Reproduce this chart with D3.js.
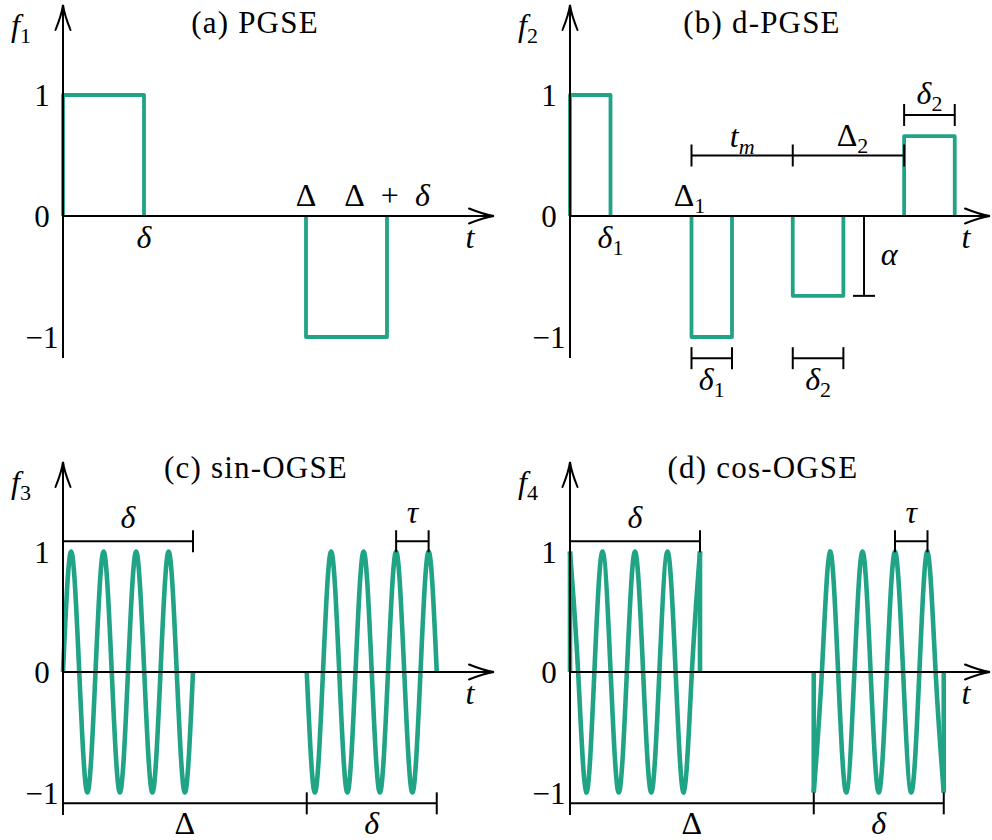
<!DOCTYPE html>
<html><head><meta charset="utf-8">
<script src="https://cdn.jsdelivr.net/npm/d3@7"></script>
<style>
body{margin:0;background:#fff}
svg{display:block;background:#fff}
text{font-family:"Liberation Serif","Times New Roman",serif;fill:#000;white-space:pre}
</style>
</head><body>
<svg id="c" width="992" height="840"></svg>
<script>
// ---------------- DATA ----------------
const yTickValues = [1, 0, -1];
const yTickLabels = ["1", "0", "\u22121"];
const panelTitles = ["(a) PGSE", "(b) d-PGSE", "(c) sin-OGSE", "(d) cos-OGSE"];
const yAxisSubs = ["1", "2", "3", "4"];

// (a) PGSE pulses
const pgseStart = [0, 3];
const pgseEnd = [1, 4];
const pgseAmp = [1, -1];

// (b) d-PGSE pulses
const dpgseStart = [0, 3, 5.5, 8.25];
const dpgseEnd = [1, 4, 6.75, 9.5];
const dpgseAmp = [1, -1, -0.66, 0.66];

// (c) sin-OGSE knots (zeros and extrema)
const sinBlock1T = [0,0.25,0.5,0.75,1,1.25,1.5,1.75,2,2.25,2.5,2.75,3,3.25,3.5,3.75,4];
const sinBlock1V = [0,1,0,-1,0,1,0,-1,0,1,0,-1,0,1,0,-1,0];
const sinBlock2T = [7.5,7.75,8,8.25,8.5,8.75,9,9.25,9.5,9.75,10,10.25,10.5,10.75,11,11.25,11.5];
const sinBlock2V = [0,-1,0,1,0,-1,0,1,0,-1,0,1,0,-1,0,1,0];

// (d) cos-OGSE knots
const cosBlock1T = [0,0.25,0.5,0.75,1,1.25,1.5,1.75,2,2.25,2.5,2.75,3,3.25,3.5,3.75,4];
const cosBlock1V = [1,0,-1,0,1,0,-1,0,1,0,-1,0,1,0,-1,0,1];
const cosBlock2T = [7.5,7.75,8,8.25,8.5,8.75,9,9.25,9.5,9.75,10,10.25,10.5,10.75,11,11.25,11.5];
const cosBlock2V = [-1,0,1,0,-1,0,1,0,-1,0,1,0,-1,0,1,0,-1];
const cosEdgeT = [0, 4, 7.5, 11.5];
const cosEdgeFrom = [0, 1, 0, -1];
const cosEdgeTo = [1, 0, -1, 0];

// ---------------- LAYOUT ----------------
const GREEN = "#21a386";
const svg = d3.select("#c");
const L = [
  {x0:63,  y0:216, ux:81,   uy:121,   tipX:494, tipY:5,   botY:358, titleX:255, titleY:33},
  {x0:570, y0:216, ux:40.5, uy:121,   tipX:990, tipY:5,   botY:358, titleX:762, titleY:33},
  {x0:63,  y0:672, ux:32.5, uy:120.5, tipX:494, tipY:462, botY:815, titleX:256, titleY:478},
  {x0:570, y0:672, ux:32.5, uy:120.5, tipX:990, tipY:462, botY:815, titleX:763, titleY:478}
];

function arrowHead(g, x, y, angle) {
  g.append("path")
    .attr("d", "M-25,-7.5 C-15,-3.5 -6,-0.8 0,0 C-6,0.8 -15,3.5 -25,7.5")
    .attr("transform", `translate(${x},${y}) rotate(${angle})`)
    .attr("fill", "none").attr("stroke", "#000").attr("stroke-width", 2)
    .attr("stroke-linecap", "round");
}

function mathLabel(g, x, y, parts, size, anchor) {
  size = size || 32;
  const t = g.append("text").attr("x", x).attr("y", y)
    .attr("text-anchor", anchor || "middle").style("font-size", size + "px");
  let shifted = 0;
  parts.forEach(p => {
    const ts = t.append("tspan").text(p.s);
    if (p.i) ts.style("font-style", "italic");
    if (p.sub) { ts.style("font-size", Math.round(size * 0.7) + "px").attr("dy", 7 - shifted); shifted = 7; }
    else if (shifted) { ts.attr("dy", -shifted); shifted = 0; }
  });
  return t;
}

function bar(g, xPx, yPx) {
  g.append("line").attr("x1", xPx[0]).attr("x2", xPx[xPx.length - 1])
    .attr("y1", yPx).attr("y2", yPx).attr("stroke", "#000").attr("stroke-width", 2);
  xPx.forEach(x => g.append("line").attr("x1", x).attr("x2", x)
    .attr("y1", yPx - 11).attr("y2", yPx + 11).attr("stroke", "#000").attr("stroke-width", 2));
}

function setupPanel(i) {
  const P = L[i];
  const xs = d3.scaleLinear().domain([0, 1]).range([P.x0, P.x0 + P.ux]);
  const ys = d3.scaleLinear().domain([-1, 1]).range([P.y0 + P.uy, P.y0 - P.uy]);
  const g = svg.append("g");
  const curves = g.append("g");
  const axes = g.append("g");
  const ann = g.append("g");
  axes.append("line").attr("x1", P.x0).attr("x2", P.tipX).attr("y1", ys(0)).attr("y2", ys(0))
    .attr("stroke", "#000").attr("stroke-width", 2);
  arrowHead(axes, P.tipX, ys(0), 0);
  axes.append("line").attr("x1", P.x0).attr("x2", P.x0).attr("y1", P.botY).attr("y2", P.tipY)
    .attr("stroke", "#000").attr("stroke-width", 2);
  arrowHead(axes, P.x0, P.tipY, -90);
  const ag = axes.append("g").attr("transform", `translate(${P.x0},0)`)
    .call(d3.axisLeft(ys).tickValues(yTickValues)
      .tickFormat(d => yTickLabels[yTickValues.indexOf(d)]).tickSize(0));
  ag.select(".domain").remove();
  ag.attr("font-family", null).attr("font-size", null);
  ag.selectAll("text").attr("x", -21).attr("text-anchor", "middle").attr("dy", "0.34em")
    .style("font-size", "31px").style("fill", "#000");
  mathLabel(axes, P.tipX - 24, ys(0) + 32, [{s: "t", i: true}]);
  mathLabel(axes, P.x0 - 52, P.tipY + 31, [{s: "f", i: true}, {s: yAxisSubs[i], sub: true}], 32, "start");
  axes.append("text").attr("x", P.titleX).attr("y", P.titleY).attr("text-anchor", "middle")
    .style("font-size", "31px").style("letter-spacing", "1.2px").text(panelTitles[i]);
  return {xs, ys, curves, ann};
}

function pulses(p, starts, ends, amps) {
  const line = d3.line().x(d => p.xs(d[0])).y(d => p.ys(d[1]));
  starts.forEach((s, k) => {
    const pts = [[s, 0], [s, amps[k]], [ends[k], amps[k]], [ends[k], 0]];
    p.curves.append("path").attr("d", line(pts)).attr("fill", "none")
      .attr("stroke", GREEN).attr("stroke-width", 3.8).attr("stroke-linejoin", "round");
  });
}

function wave(p, T, V) {
  const line = d3.line().x((d, k) => p.xs(T[k])).y((d, k) => p.ys(V[k])).curve(d3.curveNatural);
  p.curves.append("path").attr("d", line(T)).attr("fill", "none")
    .attr("stroke", GREEN).attr("stroke-width", 4.6).attr("stroke-linecap", "butt");
}

// ---------- (a) ----------
const pa = setupPanel(0);
pulses(pa, pgseStart, pgseEnd, pgseAmp);
mathLabel(pa.ann, pa.xs(pgseEnd[0]), pa.ys(0) + 32, [{s: "δ", i: true}]);
mathLabel(pa.ann, pa.xs(pgseStart[1]), pa.ys(0) - 10, [{s: "Δ"}]);
mathLabel(pa.ann, pa.xs(pgseEnd[1]), pa.ys(0) - 10, [{s: "Δ\u2002+\u2002"}, {s: "δ", i: true}]);

// ---------- (b) ----------
const pb = setupPanel(1);
pulses(pb, dpgseStart, dpgseEnd, dpgseAmp);
mathLabel(pb.ann, pb.xs(dpgseEnd[0]), pb.ys(0) + 32, [{s: "δ", i: true}, {s: "1", sub: true}]);
mathLabel(pb.ann, pb.xs(dpgseStart[1]) - 2, pb.ys(0) - 10, [{s: "Δ"}, {s: "1", sub: true}]);
const yMid = pb.ys(0.5);
bar(pb.ann, [pb.xs(dpgseStart[1]), pb.xs(dpgseStart[2]), pb.xs(dpgseStart[3])], yMid);
mathLabel(pb.ann, (pb.xs(dpgseStart[1]) + pb.xs(dpgseStart[2])) / 2, yMid - 9, [{s: "t", i: true}, {s: "m", i: true, sub: true}]);
mathLabel(pb.ann, (pb.xs(dpgseStart[2]) + pb.xs(dpgseStart[3])) / 2 + 4, yMid - 10, [{s: "Δ"}, {s: "2", sub: true}]);
const yTop = pb.ys(0.835);
bar(pb.ann, [pb.xs(dpgseStart[3]), pb.xs(dpgseEnd[3])], yTop);
mathLabel(pb.ann, (pb.xs(dpgseStart[3]) + pb.xs(dpgseEnd[3])) / 2, yTop - 11, [{s: "δ", i: true}, {s: "2", sub: true}]);
const yBot = pb.ys(-1.175);
bar(pb.ann, [pb.xs(dpgseStart[1]), pb.xs(dpgseEnd[1])], yBot);
mathLabel(pb.ann, (pb.xs(dpgseStart[1]) + pb.xs(dpgseEnd[1])) / 2, yBot + 32, [{s: "δ", i: true}, {s: "1", sub: true}]);
bar(pb.ann, [pb.xs(dpgseStart[2]), pb.xs(dpgseEnd[2])], yBot);
mathLabel(pb.ann, (pb.xs(dpgseStart[2]) + pb.xs(dpgseEnd[2])) / 2, yBot + 32, [{s: "δ", i: true}, {s: "2", sub: true}]);
const ax = pb.xs(7.26);
pb.ann.append("line").attr("x1", ax).attr("x2", ax).attr("y1", pb.ys(0)).attr("y2", pb.ys(dpgseAmp[2]))
  .attr("stroke", "#000").attr("stroke-width", 2);
[0, dpgseAmp[2]].forEach(v => pb.ann.append("line").attr("x1", ax - 11).attr("x2", ax + 11)
  .attr("y1", pb.ys(v)).attr("y2", pb.ys(v)).attr("stroke", "#000").attr("stroke-width", 2));
mathLabel(pb.ann, ax + 25, (pb.ys(0) + pb.ys(dpgseAmp[2])) / 2 + 9, [{s: "α", i: true}]);

// ---------- (c) & (d) annotations ----------
function ogseAnn(p, tauStart) {
  const yT = p.ys(1.085);
  bar(p.ann, [p.xs(0), p.xs(4)], yT);
  mathLabel(p.ann, (p.xs(0) + p.xs(4)) / 2, yT - 13, [{s: "δ", i: true}]);
  bar(p.ann, [p.xs(tauStart), p.xs(tauStart + 1)], yT);
  mathLabel(p.ann, (p.xs(tauStart) + p.xs(tauStart + 1)) / 2, yT - 18, [{s: "τ", i: true}]);
  const yB = p.ys(-1.09);
  bar(p.ann, [p.xs(0), p.xs(7.5), p.xs(11.5)], yB);
  mathLabel(p.ann, (p.xs(0) + p.xs(7.5)) / 2, yB + 31, [{s: "Δ"}]);
  mathLabel(p.ann, (p.xs(7.5) + p.xs(11.5)) / 2, yB + 31, [{s: "δ", i: true}]);
}

const pc = setupPanel(2);
wave(pc, sinBlock1T, sinBlock1V);
wave(pc, sinBlock2T, sinBlock2V);
ogseAnn(pc, 10.25);

const pd = setupPanel(3);
wave(pd, cosBlock1T, cosBlock1V);
wave(pd, cosBlock2T, cosBlock2V);
cosEdgeT.forEach((t, k) => pd.curves.append("line")
  .attr("x1", pd.xs(t)).attr("x2", pd.xs(t)).attr("y1", pd.ys(cosEdgeFrom[k])).attr("y2", pd.ys(cosEdgeTo[k]))
  .attr("stroke", GREEN).attr("stroke-width", 4.6));
ogseAnn(pd, 10);
</script>
</body></html>
